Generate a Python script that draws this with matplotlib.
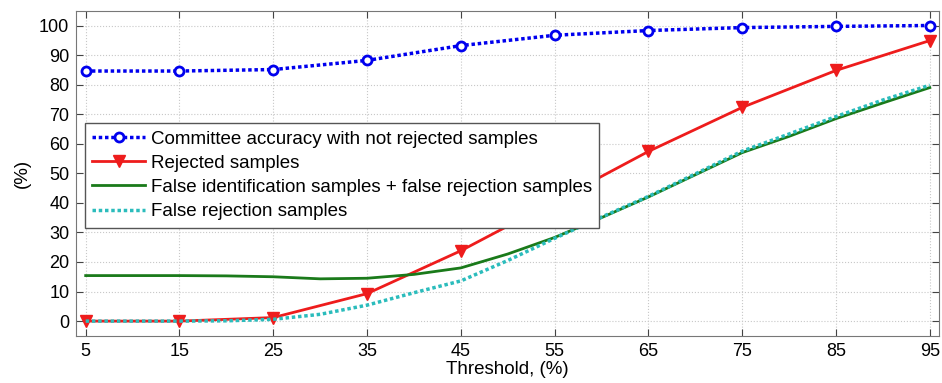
import matplotlib
matplotlib.use("Agg")
import matplotlib.pyplot as plt

plt.rcParams['font.family'] = ['Liberation Sans', 'DejaVu Sans']

thresholds = [5, 15, 25, 35, 45, 55, 65, 75, 85, 95]
accuracy = [84.6, 84.6, 85.1, 88.2, 93.2, 96.7, 98.3, 99.3, 99.7, 100.0]
rejected = [0.0, 0.0, 1.2, 9.3, 23.8, 40.5, 57.4, 72.3, 84.8, 94.9]

fine_x = [5, 10, 15, 20, 25, 30, 35, 40, 45, 50, 55, 60, 65, 70, 75, 80, 85, 90, 95]
false_ident_rej = [15.4, 15.4, 15.4, 15.3, 15.0, 14.3, 14.5, 15.8, 18.0, 22.7, 28.3, 35.0, 42.0, 49.5, 57.0, 62.5, 68.5, 73.8, 79.0]
false_rej = [0.0, 0.0, 0.0, 0.1, 0.6, 2.3, 5.4, 9.6, 13.6, 20.5, 28.0, 35.2, 42.2, 49.8, 57.5, 63.3, 69.2, 74.8, 79.8]

fig = plt.figure(figsize=(9.42, 3.83), dpi=100)
ax = fig.add_axes([0.081, 0.123, 0.916, 0.849])

ax.plot(thresholds, accuracy, color='#0000ee', linestyle=(0, (1, 0.8)), linewidth=2.5,
        marker='o', markersize=6.5, markerfacecolor='white', markeredgewidth=2,
        label='Committee accuracy with not rejected samples')
ax.plot(thresholds, rejected, color='#ee1c1c', linestyle='-', linewidth=2,
        marker='v', markersize=8, markerfacecolor='#ee1c1c',
        label='Rejected samples')
ax.plot(fine_x, false_ident_rej, color='#1a7a1a', linestyle='-', linewidth=2,
        label='False identification samples + false rejection samples')
ax.plot(fine_x, false_rej, color='#2bbcbc', linestyle=(0, (1, 0.8)), linewidth=2.5,
        label='False rejection samples')

ax.set_xlim(4, 96)
ax.set_ylim(-5, 105)
ax.set_xticks(thresholds)
ax.set_yticks(range(0, 101, 10))
ax.tick_params(direction='in', top=True, right=True, labelsize=13, length=5,
               color='#444444', pad=5)
ax.grid(True, linestyle=':', color='#c8c8c8', linewidth=0.8)
for s in ax.spines.values():
    s.set_color('#777777')

ax.set_xlabel('Threshold, (%)', fontsize=13.5, labelpad=1)
ax.set_ylabel('(%)', fontsize=13.5, labelpad=6)

leg = ax.legend(loc='upper left', bbox_to_anchor=(0.01, 0.655), borderaxespad=0,
                fontsize=13.5, fancybox=False, framealpha=1, edgecolor='#555555',
                handlelength=2.8, borderpad=0.4, labelspacing=0.38, handletextpad=0.3)

fig.savefig('out.png', dpi=100)
